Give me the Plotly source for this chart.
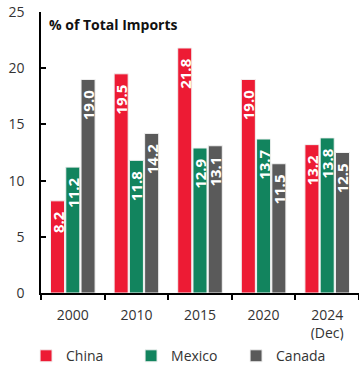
import plotly.graph_objects as go

years = ["2000", "2010", "2015", "2020", "2024<br>(Dec)"]
china = [8.2, 19.5, 21.8, 19.0, 13.2]
mexico = [11.2, 11.8, 12.9, 13.7, 13.8]
canada = [19.0, 14.2, 13.1, 11.5, 12.5]

series = [
    ("China", china, "#ED1B34"),
    ("Mexico", mexico, "#12845E"),
    ("Canada", canada, "#5A5A5A"),
]

FONT = "Open Sans"
PAD = "\u00a0\u00a0"  # keeps the value labels clear of the bar ends

fig = go.Figure()
for name, vals, color in series:
    fig.add_trace(go.Bar(
        name=name,
        x=years,
        y=vals,
        marker=dict(color=color, line=dict(color="#F2F2F2", width=1)),
        text=[f"{v:.1f}{PAD}" for v in vals],
        textposition="inside",
        insidetextanchor="end",
        textangle=-90,
        textfont=dict(family=FONT, size=15, color="white", weight="bold"),
        cliponaxis=False,
    ))

fig.update_layout(
    width=359,
    height=367,
    margin=dict(l=41, r=0, t=12, b=74, autoexpand=False),
    paper_bgcolor="white",
    plot_bgcolor="white",
    barmode="group",
    bargap=0.28,
    bargroupgap=0.08,
    uniformtext=dict(minsize=15, mode="show"),
    font=dict(family=FONT, size=14, color="#333333"),
    showlegend=True,
    legend=dict(
        orientation="h",
        x=-0.047,
        xanchor="left",
        y=-0.168,
        yanchor="top",
        entrywidth=60,
        font=dict(family=FONT, size=14, color="#333333"),
        traceorder="normal",
    ),
    xaxis=dict(
        showline=True,
        linecolor="#000000",
        linewidth=1.5,
        ticks="outside",
        tickson="boundaries",
        ticklen=5,
        tickcolor="#000000",
        tickwidth=1.5,
        ticklabelstandoff=8,
        tickfont=dict(family=FONT, size=14, color="#333333"),
        showgrid=False,
        zeroline=False,
    ),
    yaxis=dict(
        range=[0, 25],
        dtick=5,
        showline=True,
        linecolor="#000000",
        linewidth=1.5,
        ticks="inside",
        ticklen=5,
        tickcolor="#000000",
        tickwidth=1.5,
        ticklabelstandoff=12,
        tickfont=dict(family=FONT, size=14, color="#333333"),
        showgrid=False,
        zeroline=False,
    ),
    annotations=[
        dict(
            text="<b>% of Total Imports</b>",
            xref="paper", yref="paper",
            x=0.02, y=0.995,
            xanchor="left", yanchor="top",
            showarrow=False,
            font=dict(family=FONT, size=14, color="#111111"),
        )
    ],
)

fig.write_html("out.html")
